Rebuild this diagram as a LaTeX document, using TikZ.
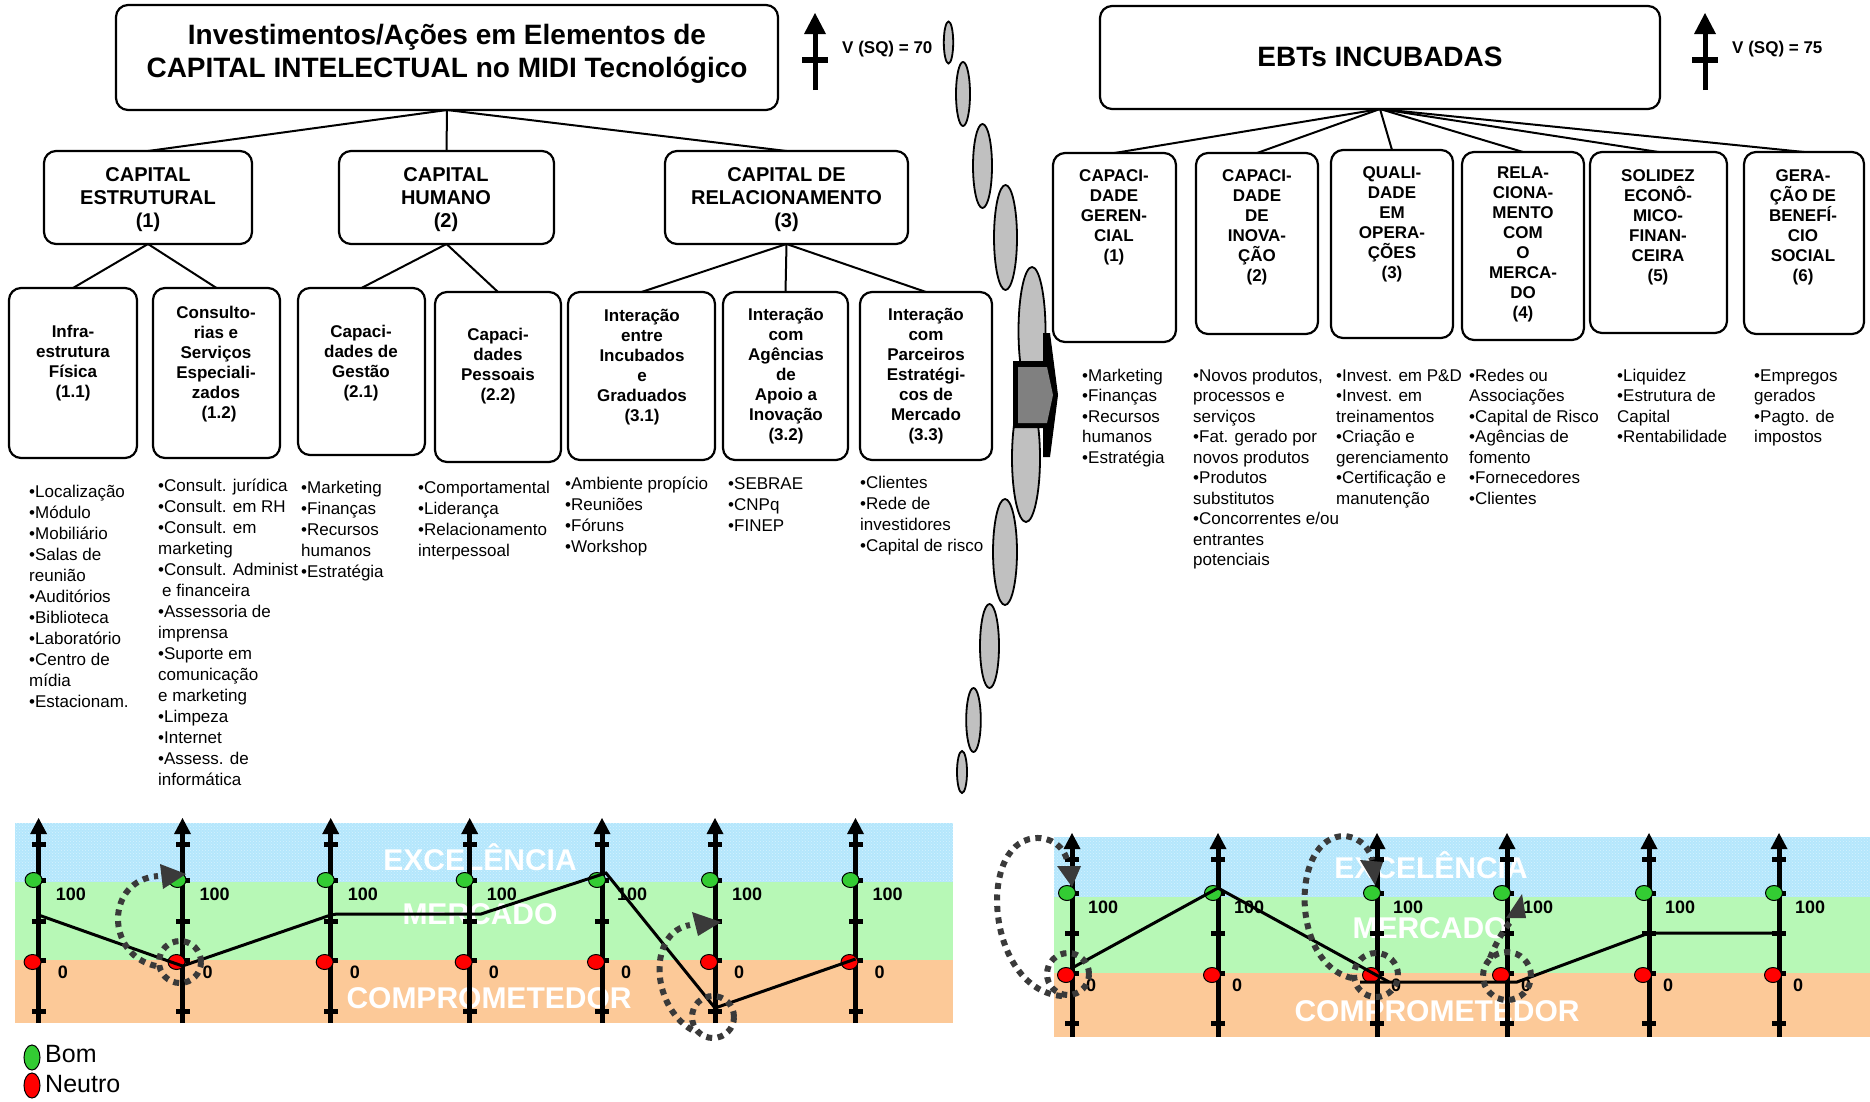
\documentclass[tikz,border=0pt]{standalone}
\usepackage{fontspec}
\setmainfont{Liberation Sans}
\usetikzlibrary{patterns}
\definecolor{bandblue}{RGB}{180,230,252}
\definecolor{bandbluelt}{RGB}{214,243,255}
\definecolor{bandgreen}{RGB}{183,248,182}
\definecolor{bandorange}{RGB}{252,201,152}
\definecolor{dotgreen}{RGB}{51,204,51}
\definecolor{dotred}{RGB}{255,0,0}
\definecolor{ovalgray}{RGB}{192,192,192}
\definecolor{arrowgray}{RGB}{128,128,128}
\definecolor{dashgray}{RGB}{58,58,58}

% rounded box given by its corners: name, x1, y1, x2, y2
\newcommand\boxat[5]{%
  \pgfmathsetmacro\bw{#4-#2}\pgfmathsetmacro\bh{#5-#3}%
  \pgfmathsetmacro\bcx{(#2+#4)/2}\pgfmathsetmacro\bcy{(#3+#5)/2}%
  \node[cbox, minimum width=\bw pt, minimum height=\bh pt] (#1) at (\bcx,\bcy) {};}

% scale axis: id, x, tip y, bottom y, y of 100, y of 0, tick list, label offsets
\newcommand\scaleaxis[9]{%
  \draw[axisline] (#2,#4) -- (#2,#3+14);
  \fill (#2-8.5,#3+16) -- (#2,#3) -- (#2+8.5,#3+16) -- cycle;
  \foreach \t in {#7} \fill (#2-7,\t-2.5) rectangle (#2+7,\t+2.5);
  \filldraw[gdot] (#2-5,#5) ellipse[x radius=8.5pt, y radius=7.5pt];
  \filldraw[rdot] (#2-6,#6+1) ellipse[x radius=8.5pt, y radius=7.5pt];
  \node[numlbl] (hi#1) at (#2+#8,#5+20) {100};
  \node[numlbl] (lo#1) at (#2+#9,#6+17) {0};
}

\begin{document}
\begin{tikzpicture}[x=1pt,y=-1pt,
  cbox/.style={draw=black, line width=2.2pt, rounded corners=12pt, inner sep=0pt, outer sep=0pt, fill=white},
  btxt/.style={align=center, inner sep=0pt, font=\bfseries\fontsize{17}{20}\selectfont},
  captxt/.style={align=center, inner sep=0pt, font=\bfseries\fontsize{20}{23}\selectfont},
  ttxt/.style={align=center, inner sep=0pt, font=\bfseries\fontsize{28}{33}\selectfont},
  list/.style={align=left, inner sep=0pt, anchor=north west, font=\fontsize{17}{21}\selectfont},
  rlist/.style={align=left, inner sep=0pt, anchor=north west, font=\fontsize{17}{20.5}\selectfont},
  link/.style={line width=2pt},
  vlbl/.style={anchor=west, inner sep=0pt, font=\bfseries\fontsize{17}{20}\selectfont},
  oval/.style={fill=ovalgray, draw=black, line width=1.8pt},
  axisline/.style={line width=5pt},
  gdot/.style={fill=dotgreen, draw=black, line width=1pt},
  rdot/.style={fill=dotred, draw=black, line width=1pt},
  numlbl/.style={anchor=base west, inner sep=0pt, font=\bfseries\fontsize{18}{18}\selectfont},
  bandlbl/.style={anchor=base, inner sep=0pt, text=white, font=\bfseries\fontsize{30}{30}\selectfont},
  pline/.style={line width=3pt, line join=miter},
  dsh/.style={draw=dashgray, line width=6pt, dash pattern=on 6pt off 5.5pt},
  ahead/.style={fill=dashgray}]

\useasboundingbox (0,0) rectangle (1870,1101);
\fill[white] (0,0) rectangle (1870,1101);

%% ---------------- left tree ----------------
\boxat{T}{116}{5}{778}{110}
\node[ttxt] (tT) at (447,54) {Investimentos/Ações em Elementos de\\CAPITAL INTELECTUAL no MIDI Tecnológico};

\boxat{CE}{44}{151}{252}{244}
\boxat{CH}{339}{151}{554}{244}
\boxat{CR}{665}{151}{908}{244}
\node[captxt] (tCE) at (148,200) {CAPITAL\\ESTRUTURAL\\(1)};
\node[captxt] (tCH) at (446,200) {CAPITAL\\HUMANO\\(2)};
\node[captxt] (tCR) at (786.5,200) {CAPITAL DE\\RELACIONAMENTO\\(3)};

\boxat{B11}{9}{288}{137}{458}
\boxat{B12}{153}{288}{280}{458}
\boxat{B21}{298}{288}{425}{455}
\boxat{B22}{435}{292}{561}{462}
\boxat{B31}{568}{292}{715}{460}
\boxat{B32}{723}{292}{848}{460}
\boxat{B33}{860}{292}{992}{460}

\node[btxt] (t11) at (73,363) {Infra-\\estrutura\\Física\\(1.1)};
\node[btxt] (t12) at (216,364) {Consulto-\\rias e\\Serviços\\Especiali-\\zados\\\hspace{6pt}(1.2)};
\node[btxt] (t21) at (361,363) {Capaci-\\dades de\\Gestão\\(2.1)};
\node[btxt] (t22) at (498,366) {Capaci-\\dades\\Pessoais\\(2.2)};
\node[btxt] (t31) at (642,367) {Interação\\entre\\Incubados\\e\\Graduados\\(3.1)};
\node[btxt] (t32) at (786,376) {Interação\\com\\Agências\\de\\Apoio a\\Inovação\\(3.2)};
\node[btxt] (t33) at (926,376) {Interação\\com\\Parceiros\\Estratégi-\\cos de\\Mercado\\(3.3)};

\foreach \c in {CE,CH,CR} \draw[link] (T.south) -- (\c.north);
\foreach \c in {B11,B12} \draw[link] (CE.south) -- (\c.north);
\foreach \c in {B21,B22} \draw[link] (CH.south) -- (\c.north);
\foreach \c in {B31,B32,B33} \draw[link] (CR.south) -- (\c.north);

\node[list] (l11) at (29,482.4) {\strut•Localização\\•Módulo\\•Mobiliário\\•Salas de\\reunião\\•Auditórios\\•Biblioteca\\•Laboratório\\•Centro de\\mídia\\•Estacionam.};
\node[list] (l12) at (158,476.4) {\strut•Consult. jurídica\\•Consult. em RH\\•Consult. em\\marketing\\•Consult. Administ\\\hspace{4pt}e financeira\\•Assessoria de\\imprensa\\•Suporte em\\comunicação\\e marketing\\•Limpeza\\•Internet\\•Assess. de\\informática};
\node[list] (l21) at (301,478.4) {\strut•Marketing\\•Finanças\\•Recursos\\humanos\\•Estratégia};
\node[list] (l22) at (418,478.4) {\strut•Comportamental\\•Liderança\\•Relacionamento\\interpessoal};
\node[list] (l31) at (565,474.4) {\strut•Ambiente propício\\•Reuniões\\•Fóruns\\•Workshop};
\node[list] (l32) at (728,474.4) {\strut•SEBRAE\\•CNPq\\•FINEP};
\node[list] (l33) at (860,473.4) {\strut•Clientes\\•Rede de\\investidores\\•Capital de risco};

% value arrow, left
\draw[line width=5pt] (815,90) -- (815,30);
\fill (804,34) -- (815,13) -- (826,34) -- cycle;
\fill (802,57) rectangle (828,63);
\node[vlbl] (v70) at (842,49) {V (SQ) = 70};

%% ---------------- chain of ovals and transfer arrow ----------------
\filldraw[oval] (948.5,42.5) ellipse[x radius=4.7pt, y radius=21pt];
\filldraw[oval] (963,94) ellipse[x radius=7pt, y radius=32pt];
\filldraw[oval] (982.5,166) ellipse[x radius=9.5pt, y radius=42pt];
\filldraw[oval] (1005.5,237.5) ellipse[x radius=11.5pt, y radius=52.5pt];
\filldraw[oval] (1032,331) ellipse[x radius=13.5pt, y radius=64pt];
\filldraw[oval] (1026,458) ellipse[x radius=14pt, y radius=64pt];
\filldraw[oval] (1005,552) ellipse[x radius=12pt, y radius=53pt];
\filldraw[oval] (989.5,646) ellipse[x radius=9.5pt, y radius=42pt];
\filldraw[oval] (973.5,720) ellipse[x radius=7.3pt, y radius=32pt];
\filldraw[oval] (962,772) ellipse[x radius=5pt, y radius=21pt];

\fill (1013,361) -- (1043,361) -- (1043,333) -- (1050,333) -- (1058,395) -- (1050,457) -- (1043,457) -- (1043,428) -- (1013,428) -- cycle;
\fill[arrowgray] (1018,367) -- (1047,367) -- (1053,395) -- (1047,423) -- (1018,423) -- cycle;

%% ---------------- right tree ----------------
\boxat{EBT}{1100}{6}{1660}{109}
\node[ttxt] (tEBT) at (1380,57) {EBTs INCUBADAS};

\boxat{R1}{1053}{153}{1176}{342}
\boxat{R2}{1196}{153}{1318}{334}
\boxat{R3}{1331}{150}{1453}{338}
\boxat{R4}{1462}{152}{1584}{340}
\boxat{R5}{1590}{152}{1727}{333}
\boxat{R6}{1744}{152}{1864}{334}
\foreach \c in {R1,R2,R3,R4,R5,R6} \draw[link] (EBT.south) -- (\c.north);

\node[btxt] (tR1) at (1114,217) {CAPACI-\\DADE\\GEREN-\\CIAL\\(1)};
\node[btxt] (tR2) at (1257,227) {CAPACI-\\DADE\\DE\\INOVA-\\ÇÃO\\(2)};
\node[btxt] (tR3) at (1392,224) {QUALI-\\DADE\\EM\\OPERA-\\ÇÕES\\(3)};
\node[btxt] (tR4) at (1523,244) {RELA-\\CIONA-\\MENTO\\COM\\O\\MERCA-\\DO\\(4)};
\node[btxt] (tR5) at (1658,227) {SOLIDEZ\\ECONÔ-\\MICO-\\FINAN-\\CEIRA\\(5)};
\node[btxt] (tR6) at (1803,227) {GERA-\\ÇÃO DE\\BENEFÍ-\\CIO\\SOCIAL\\(6)};

\node[rlist] (lr1) at (1082,366.8) {\strut•Marketing\\•Finanças\\•Recursos\\humanos\\•Estratégia};
\node[rlist] (lr2) at (1193,366.8) {\strut•Novos produtos,\\processos e\\serviços\\•Fat. gerado por\\novos produtos\\•Produtos\\substitutos\\•Concorrentes e/ou\\entrantes\\potenciais};
\node[rlist] (lr3) at (1336,366.8) {\strut•Invest. em P\&D\\•Invest. em\\treinamentos\\•Criação e\\gerenciamento\\•Certificação e\\manutenção};
\node[rlist] (lr4) at (1469,366.8) {\strut•Redes ou\\Associações\\•Capital de Risco\\•Agências de\\fomento\\•Fornecedores\\•Clientes};
\node[rlist] (lr5) at (1617,366.8) {\strut•Liquidez\\•Estrutura de\\Capital\\•Rentabilidade};
\node[rlist] (lr6) at (1754,366.8) {\strut•Empregos\\gerados\\•Pagto. de\\impostos};

% value arrow, right
\draw[line width=5pt] (1705,90) -- (1705,30);
\fill (1694,34) -- (1705,13) -- (1716,34) -- cycle;
\fill (1692,57) rectangle (1718,63);
\node[vlbl] (v75) at (1732,49) {V (SQ) = 75};

%% ---------------- left scale chart ----------------
\fill[bandblue] (15,823) rectangle (953,882);
\fill[pattern=crosshatch dots, pattern color=bandbluelt] (15,823) rectangle (953,882);
\fill[bandgreen] (15,882) rectangle (953,960);
\fill[bandorange] (15,960) rectangle (953,1023);
\node[bandlbl] (exL) at (480,870) {EXCELÊNCIA};
\node[bandlbl] (meL) at (480,924) {MERCADO};
\node[bandlbl] (coL) at (489,1008) {COMPROMETEDOR};

\scaleaxis{L1}{38.6}{818}{1023}{880}{961}{844,880,921,960,1011}{17}{19}
\scaleaxis{L2}{182.5}{818}{1023}{880}{961}{844,880,921,960,1011}{17}{20}
\scaleaxis{L3}{330.7}{818}{1023}{880}{961}{844,880,921,960,1011}{17}{19}
\scaleaxis{L4}{469.7}{818}{1023}{880}{961}{844,880,921,960,1011}{17}{19}
\scaleaxis{L5}{602}{818}{1023}{880}{961}{844,880,921,960,1011}{15}{19}
\scaleaxis{L6}{715}{818}{1023}{880}{961}{844,880,921,960,1011}{17}{19}
\scaleaxis{L7}{855.5}{818}{1023}{880}{961}{844,880,921,960,1011}{17}{19}

\draw[pline] (38.6,915) -- (182.5,966) -- (330.7,915) -- (337,914) -- (481,914) -- (606,873) -- (715,1008) -- (855.5,959);

\draw[dsh] (180,962) circle[radius=21pt];
\draw[dsh] (156,966) .. controls (105,955) and (105,880) .. (158,876);
\fill[ahead] (160,864) -- (186,874) -- (163,889) -- cycle;

\draw[dsh] (713,1017) circle[radius=21pt];
\draw[dsh] (692,1030) .. controls (650,1005) and (648,932) .. (690,925);
\fill[ahead] (692,912) -- (721,922) -- (698,936) -- cycle;

% legend
\filldraw[gdot] (32,1057.5) ellipse[x radius=8pt, y radius=12.5pt];
\filldraw[rdot] (32,1085.5) ellipse[x radius=8pt, y radius=12.5pt];
\node[anchor=west, inner sep=0pt, font=\fontsize{25}{25}\selectfont] (bom) at (45,1054) {Bom};
\node[anchor=west, inner sep=0pt, font=\fontsize{25}{25}\selectfont] (neutro) at (45,1084) {Neutro};

%% ---------------- right scale chart ----------------
\fill[bandblue] (1054,837) rectangle (1870,897);
\fill[pattern=crosshatch dots, pattern color=bandbluelt] (1054,837) rectangle (1870,897);
\fill[bandgreen] (1054,897) rectangle (1870,973);
\fill[bandorange] (1054,973) rectangle (1870,1037);
\node[bandlbl] (exR) at (1431,878) {EXCELÊNCIA};
\node[bandlbl] (meR) at (1430,938) {MERCADO};
\node[bandlbl] (coR) at (1437,1021) {COMPROMETEDOR};

\scaleaxis{R1}{1072}{833}{1037}{893}{974}{859,893,933,973,1023}{16}{14}
\scaleaxis{R2}{1218}{833}{1037}{893}{974}{859,893,933,973,1023}{16}{14}
\scaleaxis{R3}{1377}{833}{1037}{893}{974}{859,893,933,973,1023}{16}{14}
\scaleaxis{R4}{1507}{833}{1037}{893}{974}{859,893,933,973,1023}{16}{14}
\scaleaxis{R5}{1649}{833}{1037}{893}{974}{859,893,933,973,1023}{16}{14}
\scaleaxis{R6}{1779}{833}{1037}{893}{974}{859,893,933,973,1023}{16}{14}

\draw[pline] (1072,968) -- (1218,888) -- (1389,982);
\draw[pline] (1360,982) -- (1517,982) -- (1649,933) -- (1779,933);

\draw[dsh] (1068,974) circle[radius=21pt];
\draw[dsh] (1062,996) .. controls (985,990) and (975,835) .. (1040,838) .. controls (1058,840) and (1066,852) .. (1068,864);
\fill[ahead] (1057,866) -- (1081,866) -- (1072,887) -- cycle;

\draw[dsh] (1376,975) circle[radius=22pt];
\draw[dsh] (1352,978) .. controls (1290,965) and (1290,835) .. (1345,836) .. controls (1362,838) and (1370,850) .. (1372,860);
\fill[ahead] (1360,860) -- (1383,862) -- (1375,885) -- cycle;

\draw[dsh] (1507,976) circle[radius=24pt];
\draw[dsh] (1490,958) .. controls (1497,940) and (1505,928) .. (1512,920);
\fill[ahead] (1506,918) -- (1526,918) -- (1522,894) -- cycle;

\end{tikzpicture}
\end{document}
